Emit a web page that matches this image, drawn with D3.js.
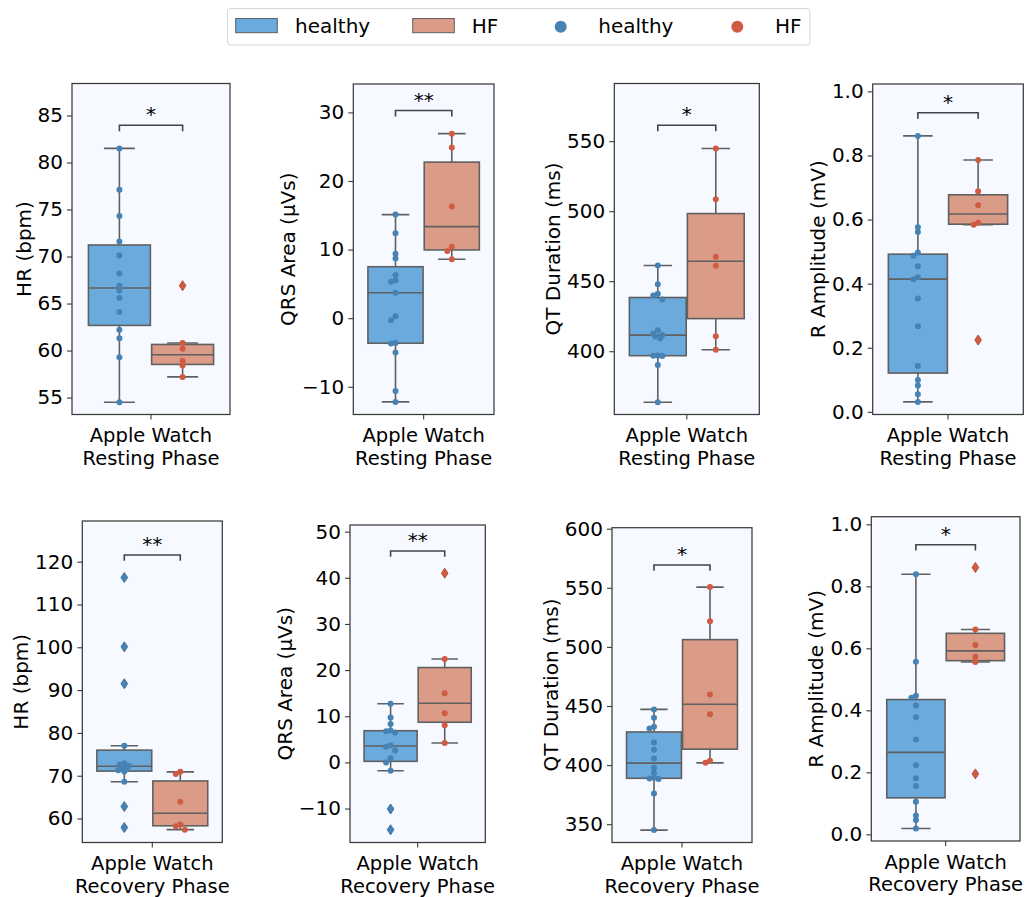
<!DOCTYPE html>
<html>
<head>
<meta charset="utf-8">
<script src="https://cdn.jsdelivr.net/npm/d3@7"></script>
<style>
  body { margin: 0; background: #ffffff; }
  svg text { font-family: "DejaVu Sans", sans-serif; fill: #000; }
</style>
</head>
<body>
<svg id="chart" width="1027" height="897"></svg>
<script>
// ---- measurements per participant group ----
const groups = ["healthy", "HF"];
const phases = ["Apple Watch\nResting Phase", "Apple Watch\nRecovery Phase"];

const restHR_healthy  = [81.5, 77.1, 74.3, 71.6, 70.1, 68.2, 66.9, 66.4, 65.6, 64.1, 62.2, 61.3, 59.3, 54.5];
const restHR_HF       = [66.9, 60.8, 60.2, 58.9, 58.4, 57.2];
const restQRS_healthy = [15.1, 12.4, 9.4, 8.7, 6.3, 5.5, 5.3, 3.7, 0.3, -0.3, -3.6, -3.7, -5.0, -10.6, -12.2];
const restQRS_HF      = [26.9, 24.9, 16.3, 10.4, 9.8, 8.6];
const restQT_healthy  = [461.2, 447.9, 441.0, 439.8, 436.9, 415.0, 412.5, 411.5, 410.5, 409.0, 396.9, 396.7, 396.5, 390.2, 363.6];
const restQT_HF       = [544.8, 508.6, 467.4, 461.0, 410.7, 401.0];
const restR_healthy   = [0.861, 0.576, 0.561, 0.497, 0.487, 0.454, 0.420, 0.414, 0.354, 0.267, 0.143, 0.099, 0.082, 0.055, 0.031];
const restR_HF        = [0.786, 0.688, 0.645, 0.590, 0.584, 0.224];

const recHR_healthy   = [116.3, 100.1, 91.5, 77.0, 72.9, 72.6, 72.3, 72.1, 71.7, 71.3, 71.0, 68.6, 62.8, 57.9];
const recHR_HF        = [70.9, 70.4, 63.9, 58.6, 58.2, 57.4];
const recQRS_healthy  = [12.7, 9.7, 8.3, 6.9, 6.75, 6.5, 3.7, 3.4, 2.6, 0.9, 0.0, -1.8, -10.1, -14.6];
const recQRS_HF       = [41.0, 22.4, 15.0, 10.65, 8.05, 4.2];
const recQT_healthy   = [447.1, 440.0, 432.4, 431.0, 419.1, 412.9, 405.6, 397.7, 393.5, 389.2, 388.7, 388.2, 376.0, 345.0];
const recQT_HF        = [550.6, 521.6, 459.8, 443.1, 403.6, 401.9];
const recR_healthy    = [0.839, 0.557, 0.447, 0.441, 0.416, 0.378, 0.306, 0.223, 0.181, 0.156, 0.105, 0.061, 0.046, 0.019];
const recR_HF         = [0.861, 0.661, 0.611, 0.573, 0.556, 0.195];

// axis titles, tick values and significance labels
const yTitles = ["HR (bpm)", "QRS Area (µVs)", "QT Duration (ms)", "R Amplitude (mV)"];
const ticksHR_rest  = [55, 60, 65, 70, 75, 80, 85];
const ticksQRS_rest = [-10, 0, 10, 20, 30];
const ticksQT_rest  = [400, 450, 500, 550];
const ticksR        = [0.0, 0.2, 0.4, 0.6, 0.8, 1.0];
const ticksHR_rec   = [60, 70, 80, 90, 100, 110, 120];
const ticksQRS_rec  = [-10, 0, 10, 20, 30, 40, 50];
const ticksQT_rec   = [350, 400, 450, 500, 550, 600];
const starsRest = ["*", "**", "*", "*"];
const starsRec  = ["**", "**", "*", "*"];

// ---- panel setup: [left, right, top, bottom] of each plot frame, and its y range ----
const frames = [
  [72, 230, 83.5, 414.5], [353.3, 494, 84, 414.5], [614.3, 759.3, 83.5, 414.5], [872.7, 1023.3, 84, 414.5],
  [82.3, 222.3, 521, 842.5], [350, 485.3, 525, 842.5], [612, 752, 527.7, 842.5], [871.3, 1020, 516.7, 841]
];
const yRanges = [
  [53.2, 88.4], [-14.04, 34.14], [354.8, 591.2], [-0.0083, 1.023],
  [54.4, 129.5], [-17.36, 51.44], [334.5, 600.85], [-0.0215, 1.0247]
];

const panels = [
  { h: restHR_healthy,  f: restHR_HF,  title: yTitles[0], ticks: ticksHR_rest,  fmt: "d",   phase: phases[0], star: starsRest[0] },
  { h: restQRS_healthy, f: restQRS_HF, title: yTitles[1], ticks: ticksQRS_rest, fmt: "d",   phase: phases[0], star: starsRest[1] },
  { h: restQT_healthy,  f: restQT_HF,  title: yTitles[2], ticks: ticksQT_rest,  fmt: "d",   phase: phases[0], star: starsRest[2] },
  { h: restR_healthy,   f: restR_HF,   title: yTitles[3], ticks: ticksR,        fmt: ".1f", phase: phases[0], star: starsRest[3] },
  { h: recHR_healthy,   f: recHR_HF,   title: yTitles[0], ticks: ticksHR_rec,   fmt: "d",   phase: phases[1], star: starsRec[0] },
  { h: recQRS_healthy,  f: recQRS_HF,  title: yTitles[1], ticks: ticksQRS_rec,  fmt: "d",   phase: phases[1], star: starsRec[1] },
  { h: recQT_healthy,   f: recQT_HF,   title: yTitles[2], ticks: ticksQT_rec,   fmt: "d",   phase: phases[1], star: starsRec[2] },
  { h: recR_healthy,    f: recR_HF,    title: yTitles[3], ticks: ticksR,        fmt: ".1f", phase: phases[1], star: starsRec[3] }
];

// ---- styles ----
const boxFill = { healthy: "#6aaadc", HF: "#da9b87" };
const dotFill = { healthy: "#4682b4", HF: "#d05b43" };
const flierEdge = { healthy: "#2f5f86", HF: "#9c3b28" };
const edgeGray = "#606060";
const frameColor = "#3a3a3a";
const panelBg = "#f6f9ff";
const FS = 20;
const XFS = 19.5;

const svg = d3.select("#chart");

function boxStats(values) {
  const s = values.slice().sort(d3.ascending);
  const q1 = d3.quantile(s, 0.25), med = d3.quantile(s, 0.5), q3 = d3.quantile(s, 0.75);
  const iqr = q3 - q1;
  const lo = d3.min(s.filter(v => v >= q1 - 1.5 * iqr));
  const hi = d3.max(s.filter(v => v <= q3 + 1.5 * iqr));
  const fliers = s.filter(v => v < lo || v > hi);
  return { q1, med, q3, lo, hi, fliers };
}

// small horizontal spread for points that would overlap vertically
function spreadOffsets(values, y) {
  const pattern = [0, -4.5, 4.5, -2.5, 2.5, -6];
  const items = values.map((v, i) => ({ v, i, py: y(v) })).sort((a, b) => a.py - b.py);
  const off = new Array(values.length).fill(0);
  let k = 0;
  items.forEach((d, j) => {
    if (j > 0 && d.py - items[j - 1].py < 4.5) k++; else k = 0;
    off[d.i] = pattern[k % pattern.length];
  });
  return off;
}

panels.forEach((p, idx) => {
  const [x0, x1, y0, y1] = frames[idx];
  const x = d3.scaleLinear().domain([-0.5, 0.5]).range([x0, x1]);
  const y = d3.scaleLinear().domain(yRanges[idx]).range([y1, y0]);
  const g = svg.append("g");

  g.append("rect").attr("x", x0).attr("y", y0).attr("width", x1 - x0).attr("height", y1 - y0)
    .attr("fill", panelBg);

  const clip = "clip" + idx;
  svg.append("defs").append("clipPath").attr("id", clip)
    .append("rect").attr("x", x0).attr("y", y0).attr("width", x1 - x0).attr("height", y1 - y0);
  const plot = g.append("g").attr("clip-path", `url(#${clip})`);

  const sets = [["healthy", p.h, -0.2], ["HF", p.f, 0.2]];
  const boxW = 0.392;

  sets.forEach(([name, vals, c]) => {
    const st = boxStats(vals);
    const bx0 = x(c - boxW / 2), bx1 = x(c + boxW / 2), cx = x(c);
    const capHalf = (bx1 - bx0) / 4;
    const bg = plot.append("g").attr("stroke", edgeGray).attr("stroke-width", 1.6);
    bg.append("line").attr("x1", cx).attr("x2", cx).attr("y1", y(st.q3)).attr("y2", y(st.hi));
    bg.append("line").attr("x1", cx).attr("x2", cx).attr("y1", y(st.q1)).attr("y2", y(st.lo));
    bg.append("line").attr("x1", cx - capHalf).attr("x2", cx + capHalf).attr("y1", y(st.hi)).attr("y2", y(st.hi));
    bg.append("line").attr("x1", cx - capHalf).attr("x2", cx + capHalf).attr("y1", y(st.lo)).attr("y2", y(st.lo));
    bg.append("rect").attr("x", bx0).attr("y", y(st.q3)).attr("width", bx1 - bx0)
      .attr("height", y(st.q1) - y(st.q3)).attr("fill", boxFill[name]);
    bg.append("line").attr("x1", bx0).attr("x2", bx1).attr("y1", y(st.med)).attr("y2", y(st.med));

    plot.selectAll(null).data(st.fliers).enter().append("path")
      .attr("d", "M0,-5L3.3,0L0,5L-3.3,0Z")
      .attr("transform", d => `translate(${cx},${y(d)})`)
      .attr("fill", dotFill[name]).attr("stroke", flierEdge[name]).attr("stroke-width", 0.8);

    const offs = spreadOffsets(vals, y);
    plot.selectAll(null).data(vals).enter().append("circle")
      .attr("cx", (d, i) => cx + offs[i]).attr("cy", d => y(d)).attr("r", 3)
      .attr("fill", dotFill[name]);
  });

  // significance bracket
  const allVals = p.h.concat(p.f);
  const span = yRanges[idx][1] - yRanges[idx][0];
  const by = y(d3.max(allVals) + 0.07 * span);
  const drop = y(d3.max(allVals) + 0.07 * span - 0.018 * span) - by;
  const bxL = x(-0.2), bxR = x(0.2);
  g.append("path")
    .attr("d", `M${bxL},${by + drop}V${by}H${bxR}V${by + drop}`)
    .attr("fill", "none").attr("stroke", "#444").attr("stroke-width", 1.6);
  g.append("text").attr("x", (bxL + bxR) / 2).attr("y", by - 4)
    .attr("text-anchor", "middle").attr("font-size", FS).text(p.star);

  // frame
  g.append("rect").attr("x", x0).attr("y", y0).attr("width", x1 - x0).attr("height", y1 - y0)
    .attr("fill", "none").attr("stroke", frameColor).attr("stroke-width", 1.25);

  // y axis
  const yAxis = d3.axisLeft(y).tickValues(p.ticks).tickFormat(d3.format(p.fmt))
    .tickSize(5).tickPadding(4);
  const ya = g.append("g").attr("transform", `translate(${x0},0)`).call(yAxis);
  ya.select(".domain").remove();
  ya.selectAll(".tick line").attr("stroke", frameColor).attr("stroke-width", 1.1);
  ya.selectAll(".tick text").attr("font-size", FS).attr("font-family", "DejaVu Sans").attr("fill", "#000");

  let minLeft = x0;
  ya.selectAll(".tick text").each(function () {
    const b = this.getBBox();
    minLeft = Math.min(minLeft, x0 + b.x);
  });

  g.append("text")
    .attr("transform", `translate(${minLeft - 14},${(y0 + y1) / 2}) rotate(-90)`)
    .attr("text-anchor", "middle").attr("dominant-baseline", "central")
    .attr("font-size", FS).text(p.title);

  // x axis (single category, two-line label)
  const xc = x(0);
  g.append("line").attr("x1", xc).attr("x2", xc).attr("y1", y1).attr("y2", y1 + 5)
    .attr("stroke", frameColor).attr("stroke-width", 1.1);
  p.phase.split("\n").forEach((ln, i) => {
    g.append("text").attr("x", xc).attr("y", y1 + 27.5 + i * 22.8)
      .attr("text-anchor", "middle").attr("font-size", XFS).text(ln);
  });
});

// ---- legend ----
const lg = svg.append("g");
lg.append("rect").attr("x", 227.5).attr("y", 8.5).attr("width", 582.5).attr("height", 36.5)
  .attr("rx", 3).attr("fill", "#fff").attr("stroke", "#d6d6d6").attr("stroke-width", 1);
const patchItems = [["healthy", 235.7, 295], ["HF", 412.7, 471.7]];
patchItems.forEach(([name, px, tx]) => {
  lg.append("rect").attr("x", px).attr("y", 18.5).attr("width", 41.6).attr("height", 14.2)
    .attr("fill", boxFill[name]).attr("stroke", edgeGray).attr("stroke-width", 1);
  lg.append("text").attr("x", tx).attr("y", 32.5).attr("font-size", FS).text(name);
});
const dotItems = [["healthy", 560.7, 598.3], ["HF", 737.3, 775]];
dotItems.forEach(([name, cx, tx]) => {
  lg.append("circle").attr("cx", cx).attr("cy", 26.7).attr("r", 6).attr("fill", dotFill[name]);
  lg.append("text").attr("x", tx).attr("y", 32.5).attr("font-size", FS).text(name);
});
</script>
</body>
</html>
